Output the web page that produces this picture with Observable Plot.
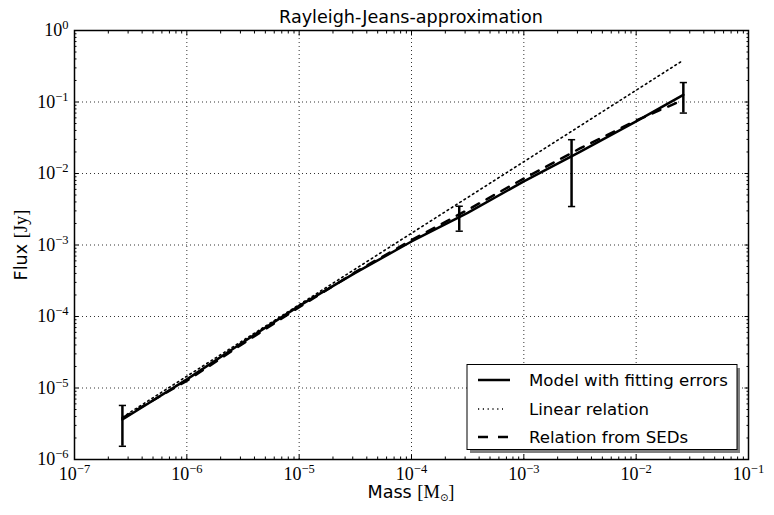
<!DOCTYPE html>
<html><head><meta charset="utf-8">
<script src="https://cdn.jsdelivr.net/npm/d3@7"></script>
<script src="https://cdn.jsdelivr.net/npm/@observablehq/plot@0.6"></script>
<style>body{margin:0;background:#fff} svg{display:block}</style>
</head><body><div id="chart"></div>
<script>
// ---- data ----
const modelMass = [2.67e-7, 1e-6, 3.16e-6, 1e-5, 3.16e-5, 1e-4, 3.16e-4, 1e-3, 3.16e-3, 1e-2, 2.63e-2];
const modelFlux = [3.63e-6, 1.32e-5, 4.37e-5, 1.41e-4, 4.07e-4, 1.12e-3, 2.82e-3, 7.76e-3, 2.0e-2, 5.37e-2, 0.126];
const sedMass   = [2.67e-7, 1e-6, 3.16e-6, 1e-5, 3.16e-5, 1e-4, 3.16e-4, 1e-3, 3.16e-3, 1e-2, 2.63e-2];
const sedFlux   = [3.8e-6, 1.26e-5, 4.17e-5, 1.35e-4, 4.17e-4, 1.17e-3, 3.1e-3, 8.51e-3, 2.24e-2, 5.5e-2, 0.107];
const linearMass = [2.67e-7, 2.6e-2];
const linearFlux = [3.9e-6, 0.38];
const errMass = [2.67e-7, 2.66e-4, 2.66e-3, 2.63e-2];
const errLow  = [1.53e-6, 1.56e-3, 3.45e-3, 0.070];
const errHigh = [5.7e-6, 3.48e-3, 2.97e-2, 0.187];
const majorX = [1e-7, 1e-6, 1e-5, 1e-4, 1e-3, 1e-2, 1e-1];
const majorY = [1e-6, 1e-5, 1e-4, 1e-3, 1e-2, 1e-1, 1];
const titleText = "Rayleigh-Jeans-approximation";
const legendLabels = ["Model with fitting errors", "Linear relation", "Relation from SEDs"];

// ---- tables ----
const model = modelMass.map((m, i) => ({mass: m, flux: modelFlux[i]}));
const seds = sedMass.map((m, i) => ({mass: m, flux: sedFlux[i]}));
const linear = linearMass.map((m, i) => ({mass: m, flux: linearFlux[i]}));
const errs = errMass.map((m, i) => ({mass: m, lo: errLow[i], hi: errHigh[i]}));
const minorOf = (major) => major.slice(0, -1).flatMap(d => d3.range(2, 10).map(k => k * d));
const minorX = minorOf(majorX), minorY = minorOf(majorY);

const cap = {draw(ctx, size) { const r = Math.sqrt(size / Math.PI); ctx.moveTo(-r, 0); ctx.lineTo(r, 0); }};
const expFmt = d => String(Math.round(Math.log10(d)));
const blank = () => "";
const gridStyle = {stroke: "black", strokeOpacity: 0.8, strokeWidth: 1, strokeDasharray: "1,3"};
const dotDash = "1.6,3.4";

const chart = Plot.plot({
  width: 774, height: 515,
  marginLeft: 74, marginRight: 26, marginTop: 30, marginBottom: 56,
  style: {fontFamily: "DejaVu Sans", background: "white", color: "black", overflow: "visible"},
  x: {type: "log", domain: [1e-7, 1e-1]},
  y: {type: "log", domain: [1e-6, 1]},
  marks: [
    Plot.gridX(majorX.slice(1, -1), gridStyle),
    Plot.gridY(majorY.slice(1, -1), gridStyle),
    Plot.line(linear, {x: "mass", y: "flux", stroke: "black", strokeWidth: 1.6, strokeDasharray: dotDash}),
    Plot.line(seds, {x: "mass", y: "flux", stroke: "black", strokeWidth: 2.5, strokeDasharray: "8.5,8.5"}),
    Plot.line(model, {x: "mass", y: "flux", stroke: "black", strokeWidth: 2.5}),
    Plot.ruleX(errs, {x: "mass", y1: "lo", y2: "hi", stroke: "black", strokeWidth: 2.5}),
    Plot.dot(errs, {x: "mass", y: "lo", symbol: cap, r: 3.6, stroke: "black", strokeWidth: 1.5, fill: "none"}),
    Plot.dot(errs, {x: "mass", y: "hi", symbol: cap, r: 3.6, stroke: "black", strokeWidth: 1.5, fill: "none"}),
    Plot.frame({stroke: "black", strokeWidth: 1.5}),
    Plot.axisX(majorX, {anchor: "bottom", tickSize: -4.5, tickPadding: 12, tickFormat: expFmt, label: null, fontSize: 18}),
    Plot.axisX(majorX, {anchor: "top", tickSize: -4.5, tickFormat: blank, label: null}),
    Plot.axisX(minorX, {anchor: "bottom", tickSize: -2.5, tickFormat: blank, label: null}),
    Plot.axisX(minorX, {anchor: "top", tickSize: -2.5, tickFormat: blank, label: null}),
    Plot.axisY(majorY, {anchor: "left", tickSize: -4.5, tickPadding: 10.5, tickFormat: expFmt, label: null, fontSize: 18}),
    Plot.axisY(majorY, {anchor: "right", tickSize: -4.5, tickFormat: blank, label: null}),
    Plot.axisY(minorY, {anchor: "left", tickSize: -2.5, tickFormat: blank, label: null}),
    Plot.axisY(minorY, {anchor: "right", tickSize: -2.5, tickFormat: blank, label: null})
  ]
});
document.getElementById("chart").appendChild(chart);

const svg = d3.select(chart);
// superscript tick labels: 10^n
svg.selectAll('g[aria-label$="tick label"] text').each(function() {
  const t = d3.select(this);
  const s = t.text();
  if (!/^-?\d+$/.test(s)) return;
  t.text(null).attr("font-family", "Liberation Serif").attr("font-size", 18);
  t.append("tspan").text("10");
  t.append("tspan").attr("font-size", 12.5).attr("dy", -7).text(s.replace("-", "\u2212"));
});

// title
svg.append("text").attr("x", 411).attr("y", 23).attr("text-anchor", "middle")
  .attr("font-family", "DejaVu Sans").attr("font-size", 17.6).attr("fill", "black").text(titleText);

// x label
const xl = svg.append("text").attr("x", 411).attr("y", 498).attr("text-anchor", "middle")
  .attr("font-family", "DejaVu Sans").attr("font-size", 17.6).attr("fill", "black");
xl.append("tspan").text("Mass ");
xl.append("tspan").attr("font-family", "Liberation Serif").attr("font-size", 18.5).text("[M");
xl.append("tspan").attr("font-family", "DejaVu Sans").attr("font-size", 10).attr("dy", 3).text("\u2299");
xl.append("tspan").attr("font-family", "Liberation Serif").attr("font-size", 18.5).attr("dy", -3).text("]");

// y label
const yl = svg.append("text").attr("transform", "translate(27,245) rotate(-90)").attr("text-anchor", "middle")
  .attr("font-family", "DejaVu Sans").attr("font-size", 17.6).attr("fill", "black");
yl.append("tspan").text("Flux ");
yl.append("tspan").attr("font-family", "Liberation Serif").attr("font-size", 18.5).text("[Jy]");

// legend
const lg = svg.append("g");
lg.append("rect").attr("x", 470).attr("y", 368).attr("width", 270).attr("height", 85).attr("fill", "#808080");
lg.append("rect").attr("x", 467).attr("y", 364.5).attr("width", 270).attr("height", 85)
  .attr("fill", "white").attr("stroke", "black").attr("stroke-width", 1);
const rows = [
  {y: 380, w: 2.5, dash: null, x2: 510},
  {y: 409, w: 1.3, dash: "1.2,3.6", x2: 503},
  {y: 437, w: 2.5, dash: "10,10", x2: 510}
];
rows.forEach((r, i) => {
  lg.append("line").attr("x1", 478).attr("x2", r.x2).attr("y1", r.y).attr("y2", r.y)
    .attr("stroke", "black").attr("stroke-width", r.w).attr("stroke-dasharray", r.dash);
  lg.append("text").attr("x", 529).attr("y", r.y + 6).attr("text-anchor", "start")
    .attr("font-family", "DejaVu Sans").attr("font-size", 16.6).attr("fill", "black").text(legendLabels[i]);
});
</script>
</body></html>
